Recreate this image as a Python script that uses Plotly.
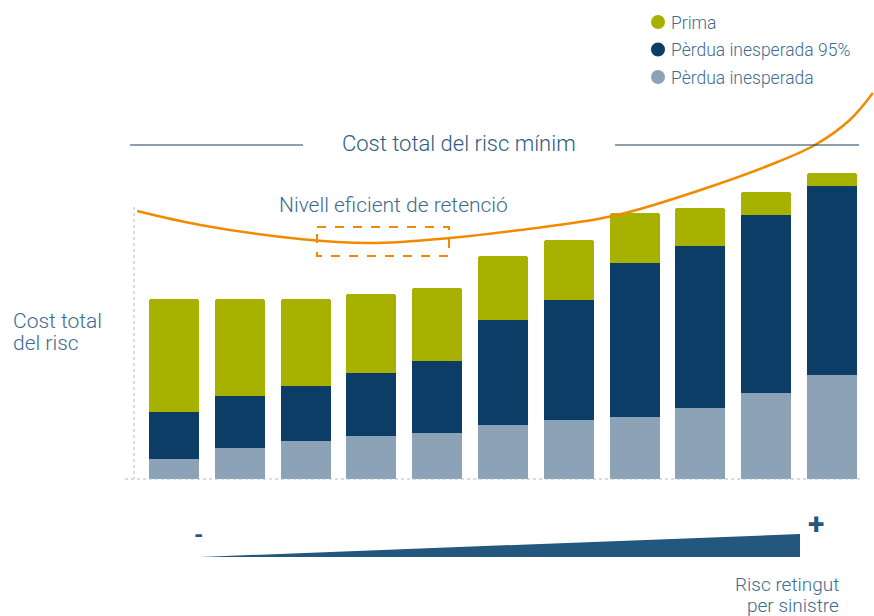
import plotly.graph_objects as go

W, H = 874, 616

# risk retention levels (low -> high)
levels = list(range(11))
perdua_inesperada = [20, 31, 38, 43, 46, 54, 59, 62, 71, 86, 104]
perdua_95 = [47, 52, 55, 63, 72, 105, 120, 154, 162, 178, 189]
prima = [113, 97, 87, 79, 73, 64, 60, 50, 38, 23, 13]

legend_names = ["Prima", "Pèrdua inesperada 95%", "Pèrdua inesperada"]

# total cost curve (same units as the bars, x in level units)
curve_x = [-0.56, 0.40, 1.91, 2.98, 4.19, 5.26, 6.67, 8.0, 9.17, 9.74, 10.27, 10.62]
curve_y = [268, 254, 240, 236, 241, 249, 263, 289, 317, 334, 359, 386]

C_PRIMA = "#a6b100"
C_NAVY = "#0b3d66"
C_LIGHT = "#8ca3b7"
C_ORANGE = "#f28a00"
C_TEXT = "#2d5c83"
C_TEXT2 = "#3e6b90"
FONT = "Roboto"


def px(x):
    return x / W


def py(y):
    return 1 - y / H


fig = go.Figure()

for name, vals, col in [("Pèrdua inesperada", perdua_inesperada, C_LIGHT),
                        ("Pèrdua inesperada 95%", perdua_95, C_NAVY),
                        ("Prima", prima, C_PRIMA)]:
    fig.add_trace(go.Bar(x=levels, y=vals, name=name, marker_color=col,
                         marker_line_width=0, width=0.76, showlegend=False))

fig.add_trace(go.Scatter(x=curve_x, y=curve_y, mode="lines", line_shape="spline",
                         line=dict(color=C_ORANGE, width=2.5), showlegend=False,
                         hoverinfo="skip"))

shapes = [
    # title side rules
    dict(type="line", xref="paper", yref="paper", x0=px(130), x1=px(303),
         y0=py(145), y1=py(145), line=dict(color="#1d3f5e", width=1.2)),
    dict(type="line", xref="paper", yref="paper", x0=px(615), x1=px(859),
         y0=py(145), y1=py(145), line=dict(color="#1d3f5e", width=1.2)),
    # dotted axes
    dict(type="line", xref="paper", yref="paper", x0=px(134), x1=px(134),
         y0=py(207), y1=py(479), line=dict(color="#a9bccb", width=1, dash="dot")),
    dict(type="line", xref="paper", yref="paper", x0=px(125), x1=px(862),
         y0=py(479), y1=py(479), line=dict(color="#a9bccb", width=1, dash="dot")),
    # efficient retention box
    dict(type="rect", xref="paper", yref="paper", x0=px(317), x1=px(449),
         y0=py(227), y1=py(256), line=dict(color=C_ORANGE, width=2, dash="dash")),
    # risk wedge
    dict(type="path", xref="paper", yref="paper",
         path=f"M {px(200)} {py(557)} L {px(800)} {py(534)} L {px(800)} {py(557)} Z",
         fillcolor="#24577d", line=dict(width=0)),
]

annotations = [
    dict(text="Cost total del risc mínim", x=px(459), y=py(144), font=dict(size=22, color=C_TEXT)),
    dict(text="Nivell eficient de retenció", x=px(393), y=py(205), font=dict(size=21, color=C_TEXT2)),
    dict(text="Cost total", x=px(11), y=py(321), xanchor="left", font=dict(size=21, color=C_TEXT2)),
    dict(text="del risc", x=px(11), y=py(343), xanchor="left", font=dict(size=21, color=C_TEXT2)),
    dict(text="<b>-</b>", x=px(198), y=py(535), font=dict(size=24, color="#24577d")),
    dict(text="<b>+</b>", x=px(816), y=py(523), font=dict(size=30, color="#24577d")),
    dict(text="Risc retingut", x=px(841), y=py(584), xanchor="right", font=dict(size=19, color=C_TEXT2)),
    dict(text="per sinistre", x=px(841), y=py(605), xanchor="right", font=dict(size=19, color=C_TEXT2)),
]

# legend: round swatches
for i, (name, col) in enumerate(zip(legend_names, [C_PRIMA, C_NAVY, C_LIGHT])):
    yy = 22 + i * 27.5
    shapes.append(dict(type="circle", xref="paper", yref="paper",
                       x0=px(651), x1=px(665), y0=py(yy - 7), y1=py(yy + 7),
                       fillcolor=col, line=dict(width=0)))
    annotations.append(dict(text=name, x=px(669), y=py(yy + 1), xanchor="left",
                            font=dict(size=17.5, color=C_TEXT2)))

for a in annotations:
    a.update(xref="paper", yref="paper", showarrow=False)
    a.setdefault("xanchor", "center")
    a["yanchor"] = "middle"
    a["font"]["weight"] = 300

fig.update_layout(
    width=W, height=H, autosize=False,
    margin=dict(l=0, r=0, t=0, b=0),
    paper_bgcolor="white", plot_bgcolor="white",
    barmode="stack", bargap=0, barcornerradius=3,
    font=dict(family=FONT, color=C_TEXT),
    xaxis=dict(range=[-174 / 65.8, (W - 174) / 65.8], visible=False),
    yaxis=dict(range=[-(H - 479), 479], visible=False),
    showlegend=False,
    shapes=shapes, annotations=annotations,
)

fig.write_html("out.html", config={"displayModeBar": False},
               post_script="document.body.style.margin='0';")
